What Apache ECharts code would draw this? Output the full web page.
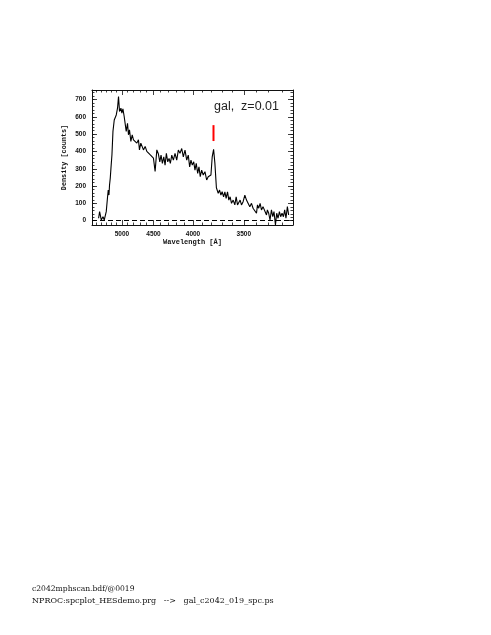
<!DOCTYPE html>
<html>
<head>
<meta charset="utf-8">
<script src="https://cdn.jsdelivr.net/npm/echarts@6/dist/echarts.min.js"></script>
<style>
  html, body { margin: 0; padding: 0; background: #fff; }
  #main { width: 491px; height: 635px; }
</style>
</head>
<body>
<div id="main"></div>
<script>
// spectrum: wavelength [A] and density [counts]
var waves = [5446, 5425, 5391, 5356, 5330, 5291, 5265, 5252, 5238, 5227,
  5213, 5200, 5181, 5162, 5138, 5101, 5078, 5060, 5042, 5017,
  5000, 4982, 4960, 4937, 4925, 4903, 4887, 4870, 4847, 4825,
  4804, 4777, 4750, 4725, 4709, 4688, 4668, 4648, 4622, 4597,
  4573, 4549, 4524, 4501, 4477, 4453, 4431, 4412, 4395, 4377,
  4358, 4341, 4324, 4306, 4289, 4272, 4254, 4234, 4213, 4192,
  4172, 4152, 4131, 4112, 4092, 4072, 4054, 4038, 4023, 4008,
  3992, 3978, 3964, 3948, 3934, 3920, 3905, 3888, 3870, 3852,
  3836, 3818, 3808, 3795, 3781, 3768, 3753, 3735, 3722, 3709,
  3697, 3683, 3671, 3659, 3646, 3634, 3622, 3609, 3594, 3579,
  3567, 3555, 3543, 3532, 3520, 3506, 3491, 3477, 3463, 3449,
  3435, 3422, 3408, 3394, 3386, 3376, 3365, 3354, 3342, 3328,
  3315, 3308, 3298, 3288, 3277, 3267, 3258, 3247, 3238, 3228,
  3218, 3209, 3199, 3189, 3180, 3171, 3161, 3152];
var counts = [14, 52, 4, 23, 4, 52, 138, 177, 148, 206,
  246, 302, 381, 516, 582, 611, 650, 717, 631, 650,
  621, 646, 602, 611, 516, 563, 496, 525, 458, 496,
  467, 477, 448, 467, 409, 448, 429, 409, 429, 400,
  409, 381, 390, 362, 285, 409, 385, 340, 379, 331,
  369, 321, 389, 340, 360, 331, 379, 350, 389, 350,
  408, 389, 417, 369, 408, 350, 379, 311, 350, 321,
  340, 292, 331, 273, 311, 254, 292, 264, 283, 235,
  254, 245, 264, 369, 412, 331, 190, 158, 177, 148,
  167, 138, 167, 129, 167, 119, 138, 100, 119, 91,
  138, 91, 81, 119, 91, 110, 148, 119, 110, 81,
  100, 72, 81, 43, 91, 72, 100, 62, 81, 72,
  33, 62, 43, 4, 62, 23, 52, -25, 43, 14,
  52, 23, 43, 23, 62, 14, 81, 33];

// line marker above the emission line
var markWave = 3782;
var markRange = [460, 552];

// axis ranges and ticks
var waveLong = 5587, waveShort = 3122;
var xTickWaves = [5000, 4500, 4000, 3500];
var xMinorWaves = [5500, 5400, 5300, 5200, 5100, 4900, 4800, 4700, 4600, 4400, 4300,
  4200, 4100, 3900, 3800, 3700, 3600, 3400, 3300, 3200];
var yMin = -25, yMax = 755;
var yTicks = [0, 100, 200, 300, 400, 500, 600, 700];
var yMinor = [];
for (var v = 0; v <= 740; v += 20) yMinor.push(v);

var sig = function (w) { return 1e4 / w; };

var myChart = echarts.init(document.getElementById('main'));

var gridBox = { left: 92, top: 90, width: 201, height: 135, outerBoundsMode: 'none' };
var xMin = sig(waveLong), xMax = sig(waveShort);
var black = '#111';

function xAx(pos, ticks, len, labels, line) {
    return {
        type: 'value', position: pos, min: xMin, max: xMax,
        axisLine: { show: line, onZero: false, lineStyle: { color: black, width: 1 } },
        axisTick: { show: true, inside: true, length: len, customValues: ticks.map(sig), lineStyle: { color: black, width: 0.8 } },
        axisLabel: labels ? {
            show: true, customValues: ticks.map(sig), margin: 6,
            fontFamily: 'Liberation Sans', fontWeight: 'bold', fontSize: 6.5, color: black,
            formatter: function (val) { return String(Math.round(1e4 / val)); }
        } : { show: false },
        splitLine: { show: false }
    };
}
function yAx(pos, ticks, len, labels, line) {
    return {
        type: 'value', position: pos, min: yMin, max: yMax,
        axisLine: { show: line, onZero: false, lineStyle: { color: black, width: 1 } },
        axisTick: { show: true, inside: true, length: len, customValues: ticks, lineStyle: { color: black, width: 0.8 } },
        axisLabel: labels ? {
            show: true, customValues: ticks, margin: 6,
            fontFamily: 'Liberation Sans', fontWeight: 'bold', fontSize: 6.5, color: black
        } : { show: false },
        splitLine: { show: false }
    };
}

var xAxes = [
    xAx('bottom', xTickWaves, 5, true, true),
    xAx('bottom', xMinorWaves, 2.5, false, false),
    xAx('top', xTickWaves, 5, false, true),
    xAx('top', xMinorWaves, 2.5, false, false)
];
xAxes[0].name = 'Wavelength [Å]';
xAxes[0].nameLocation = 'middle';
xAxes[0].nameGap = 14;
xAxes[0].nameTextStyle = { fontFamily: 'Liberation Mono', fontWeight: 'bold', fontSize: 7, color: black };

var yAxes = [
    yAx('left', yTicks, 5, true, true),
    yAx('left', yMinor, 2.5, false, false),
    yAx('right', yTicks, 5, false, true),
    yAx('right', yMinor, 2.5, false, false)
];
yAxes[0].name = 'Density [counts]';
yAxes[0].nameLocation = 'middle';
yAxes[0].nameGap = 24;
yAxes[0].nameTextStyle = { fontFamily: 'Liberation Mono', fontWeight: 'bold', fontSize: 6.8, color: black };

var option = {
    backgroundColor: '#fff',
    animation: false,
    grid: gridBox,
    xAxis: xAxes,
    yAxis: yAxes,
    series: [
        {
            name: 'spectrum',
            type: 'line',
            data: waves.map(function (w, i) { return [sig(w), counts[i]]; }),
            showSymbol: false,
            clip: true,
            lineStyle: { color: '#000', width: 1.1 },
            markLine: {
                silent: true,
                symbol: 'none',
                label: { show: false },
                lineStyle: { color: '#000', width: 1, type: [5, 3] },
                data: [{ yAxis: 0 }]
            }
        },
        {
            name: 'marker',
            type: 'line',
            data: markRange.map(function (c) { return [sig(markWave), c]; }),
            showSymbol: false,
            lineStyle: { color: '#ff0000', width: 2 }
        }
    ],
    graphic: [
        {
            type: 'text', left: 214, top: 100,
            style: { text: 'gal,  z=0.01', font: '12.5px "Liberation Sans"', fill: '#222' }
        },
        {
            type: 'text', left: 32, top: 585,
            style: { text: 'c2042mphscan.bdf/@0019', font: '7.6px "DejaVu Serif"', fill: '#111' }
        },
        {
            type: 'text', left: 32, top: 597,
            style: { text: 'NPROC:spcplot_HESdemo.prg   -->   gal_c2042_019_spc.ps', font: '8px "DejaVu Serif"', fill: '#111' }
        }
    ]
};

myChart.setOption(option);
</script>
</body>
</html>
